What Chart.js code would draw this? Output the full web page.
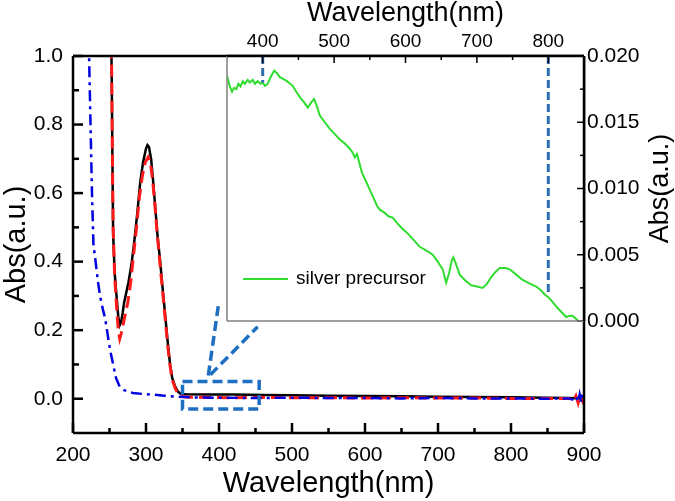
<!DOCTYPE html>
<html>
<head>
<meta charset="utf-8">
<script src="https://cdn.jsdelivr.net/npm/chart.js@4.4.0/dist/chart.umd.min.js"></script>
<style>
  body { margin: 0; background: #fff; }
  #wrap { position: relative; width: 675px; height: 501px; }
  #wrap canvas { position: absolute; left: 0; top: 0; }
</style>
</head>
<body>
<div id="wrap">
  <canvas id="mainChart" width="675" height="501"></canvas>
  <canvas id="insetChart" width="675" height="501"></canvas>
</div>
<script>
// ---- main panel data ----
const blackX = [250, 252, 253, 254, 255, 257, 260, 262, 264, 266, 268, 270, 273, 276, 280, 284, 288, 292, 296, 300, 302, 304, 307, 310, 313, 316, 319, 322, 326, 330, 333, 336, 340, 344, 348, 355, 380, 420, 460, 500, 550, 600, 650, 700, 750, 800, 850, 880, 900];
const blackY = [1.5, 1.1, 0.95, 0.7, 0.48, 0.37, 0.29, 0.24, 0.215, 0.225, 0.25, 0.28, 0.31, 0.34, 0.39, 0.46, 0.54, 0.63, 0.69, 0.73, 0.74, 0.735, 0.70, 0.63, 0.55, 0.47, 0.41, 0.34, 0.25, 0.16, 0.10, 0.06, 0.035, 0.02, 0.014, 0.013, 0.012, 0.012, 0.011, 0.010, 0.009, 0.008, 0.007, 0.006, 0.005, 0.004, 0.003, 0.002, 0.001];

const redX = [250, 252, 253, 254, 255, 257, 260, 262, 264, 266, 268, 271, 275, 279, 283, 287, 291, 295, 299, 303, 306, 309, 312, 315, 318, 322, 326, 330, 333, 336, 340, 344, 348, 355, 380, 420, 460, 500, 550, 600, 650, 700, 750, 800, 850, 880, 886, 889, 892, 895, 898, 900];
const redY = [1.5, 1.1, 0.95, 0.7, 0.5, 0.36, 0.26, 0.20, 0.175, 0.19, 0.21, 0.24, 0.28, 0.34, 0.42, 0.50, 0.59, 0.65, 0.69, 0.705, 0.69, 0.64, 0.57, 0.49, 0.42, 0.33, 0.24, 0.15, 0.095, 0.055, 0.03, 0.015, 0.008, 0.005, 0.004, 0.003, 0.004, 0.003, 0.003, 0.002, 0.003, 0.002, 0.002, 0.001, 0.001, 0.001, -0.005, 0.008, -0.012, 0.012, -0.006, 0.004];

const blueX = [218, 220, 222, 224, 226, 228, 231, 234, 237, 241, 244, 248, 251, 255, 259, 264, 270, 282, 295, 310, 325, 342, 360, 400, 450, 500, 550, 600, 650, 700, 750, 800, 850, 880, 886, 889, 892, 894, 896, 898, 900];
const blueY = [1.6, 1.25, 1.0, 0.80, 0.60, 0.45, 0.40, 0.345, 0.30, 0.26, 0.235, 0.18, 0.14, 0.10, 0.06, 0.035, 0.025, 0.017, 0.014, 0.012, 0.009, 0.006, 0.004, 0.003, 0.002, 0.003, 0.002, 0.002, 0.001, 0.002, 0.001, 0.001, 0.000, 0.001, -0.004, 0.006, -0.008, 0.012, -0.010, 0.014, 0.002];

// zoom box + pointer (data coords)
const boxX = [350, 455, 455, 350, 350];
const boxY = [0.05, 0.05, -0.03, -0.03, 0.05];
const pointerX = [399, 385, 453];
const pointerY = [0.27, 0.063, 0.21];

const mainXTicks = [200, 300, 400, 500, 600, 700, 800, 900];
const mainYTicks = [0, 0.2, 0.4, 0.6, 0.8, 1.0];

// ---- inset data ----
const greenX = [350, 354, 357, 360, 363, 366, 369, 372, 375, 379, 382, 386, 389, 393, 397, 400, 403, 407, 411, 416, 420, 424, 428, 434, 442, 447, 452, 458, 463, 468, 472, 476, 480, 487, 494, 501, 508, 515, 522, 526, 529, 532, 535, 539, 545, 550, 556, 560, 564, 570, 576, 582, 588, 595, 602, 610, 620, 630, 638, 645, 652, 657, 661, 665, 667, 670, 676, 683, 692, 700, 708, 714, 720, 726, 732, 740, 746, 755, 764, 775, 783, 790, 795, 800, 805, 811, 818, 825, 830, 834, 838, 842];
const greenY = [0.0185, 0.0177, 0.0173, 0.0176, 0.0175, 0.0179, 0.0177, 0.0181, 0.0179, 0.0182, 0.0180, 0.0182, 0.0179, 0.0181, 0.0179, 0.0180, 0.01775, 0.0179, 0.0184, 0.0189, 0.0187, 0.0184, 0.0183, 0.0181, 0.01775, 0.0173, 0.0169, 0.0165, 0.0161, 0.0165, 0.01675, 0.0162, 0.0155, 0.0150, 0.0145, 0.0141, 0.0137, 0.0134, 0.0130, 0.0127, 0.01235, 0.0126, 0.0120, 0.0112, 0.0105, 0.0099, 0.0092, 0.0087, 0.0084, 0.0082, 0.0079, 0.0078, 0.0074, 0.0070, 0.00667, 0.0062, 0.0056, 0.0053, 0.0050, 0.0045, 0.0039, 0.0029, 0.0036, 0.0046, 0.0048, 0.0044, 0.0035, 0.0031, 0.0027, 0.0026, 0.0025, 0.0028, 0.0033, 0.0037, 0.0040, 0.0040, 0.0039, 0.0035, 0.0031, 0.0028, 0.0026, 0.0023, 0.0020, 0.0018, 0.0015, 0.0011, 0.0007, 0.0003, 0.0004, 0.0004, 0.0002, 0.0];

const mark400X = [400, 400];
const mark400Y = [0.020, 0.0180];
const mark800X = [800, 800];
const mark800Y = [0.020, 0.0021];

const insetXTicks = [400, 500, 600, 700, 800];
const insetYTicks = [0, 0.005, 0.010, 0.015, 0.020];

const pts = (xs, ys) => xs.map((x, i) => ({ x: x, y: ys[i] }));

Chart.defaults.font.family = "'Liberation Sans', Arial, sans-serif";
Chart.defaults.color = '#000';

// frame, inward ticks, extra text
const framePlugin = {
  id: 'frame',
  beforeDraw(chart, args, o) {
    if (!o.fill) return;
    const a = chart.chartArea, ctx = chart.ctx;
    ctx.save();
    ctx.fillStyle = '#fff';
    ctx.fillRect(a.left, a.top, a.right - a.left, a.bottom - a.top);
    ctx.restore();
  },
  afterDatasetsDraw(chart, args, o) {
    const a = chart.chartArea, ctx = chart.ctx;
    ctx.save();
    // ticks
    (o.ticks || []).forEach(t => {
      const sc = chart.scales[t.axis];
      const vals = sc.ticks.map(k => k.value);
      const step = vals[1] - vals[0];
      const minors = [];
      for (let v = vals[0] - step / 2; v <= sc.max + 1e-9; v += step) {
        if (v > sc.min + 1e-9 && v < sc.max - 1e-9) minors.push(v);
      }
      ctx.strokeStyle = '#000';
      ctx.lineWidth = t.width;
      const draw = (v, len) => {
        const p = sc.getPixelForValue(v);
        ctx.beginPath();
        if (t.side === 'bottom') { ctx.moveTo(p, a.bottom); ctx.lineTo(p, a.bottom - len); }
        if (t.side === 'top')    { ctx.moveTo(p, a.top);    ctx.lineTo(p, a.top + len); }
        if (t.side === 'left')   { ctx.moveTo(a.left, p);   ctx.lineTo(a.left + len, p); }
        if (t.side === 'right')  { ctx.moveTo(a.right, p);  ctx.lineTo(a.right - len, p); }
        ctx.stroke();
      };
      vals.forEach(v => draw(v, t.major));
      minors.forEach(v => draw(v, t.minor));
    });
    // sides
    (o.sides || []).forEach(s => {
      ctx.strokeStyle = s.color;
      ctx.lineWidth = s.width;
      ctx.beginPath();
      if (s.side === 'top')    { ctx.moveTo(a.left, a.top);    ctx.lineTo(a.right, a.top); }
      if (s.side === 'bottom') { ctx.moveTo(a.left, a.bottom); ctx.lineTo(a.right, a.bottom); }
      if (s.side === 'left')   { ctx.moveTo(a.left, a.top);    ctx.lineTo(a.left, a.bottom); }
      if (s.side === 'right')  { ctx.moveTo(a.right, a.top);   ctx.lineTo(a.right, a.bottom); }
      ctx.stroke();
    });
    // legend inside the inset
    if (o.legend) {
      const L = o.legend;
      ctx.strokeStyle = L.color;
      ctx.lineWidth = 2;
      ctx.beginPath();
      ctx.moveTo(a.left + 16, a.top + L.dy);
      ctx.lineTo(a.left + 61, a.top + L.dy);
      ctx.stroke();
      ctx.fillStyle = '#000';
      ctx.font = "19px 'Liberation Sans', Arial, sans-serif";
      ctx.textBaseline = 'middle';
      ctx.textAlign = 'left';
      ctx.fillText(L.text, a.left + 69, a.top + L.dy);
    }
    // right axis title, read bottom to top
    if (o.rightTitle) {
      ctx.fillStyle = '#000';
      ctx.font = "27px 'Liberation Sans', Arial, sans-serif";
      ctx.textAlign = 'center';
      ctx.textBaseline = 'middle';
      ctx.translate(a.right + 77, (a.top + a.bottom) / 2);
      ctx.rotate(-Math.PI / 2);
      ctx.fillText(o.rightTitle, 0, 0);
    }
    ctx.restore();
  }
};

new Chart(document.getElementById('mainChart'), {
  type: 'line',
  data: {
    datasets: [
      { label: 'box', data: pts(boxX, boxY), borderColor: '#1f6fc1', borderWidth: 3.5, borderDash: [10, 5] },
      { label: 'pointer', data: pts(pointerX, pointerY), borderColor: '#1f6fc1', borderWidth: 3.5, borderDash: [10, 5] },
      { label: 'blue', data: pts(blueX, blueY), borderColor: '#0000e0', borderWidth: 2.5, borderDash: [11, 5, 3, 5] },
      { label: 'red', data: pts(redX, redY), borderColor: '#ff1a1a', borderWidth: 3, borderDash: [12, 6] },
      { label: 'black', data: pts(blackX, blackY), borderColor: '#000', borderWidth: 2.5 }
    ]
  },
  options: {
    responsive: false, animation: false, devicePixelRatio: 1,
    layout: { padding: { top: 56, right: 91, left: 0, bottom: 0 } },
    elements: { point: { radius: 0 }, line: { tension: 0 } },
    plugins: {
      legend: { display: false }, tooltip: { enabled: false },
      frame: {
        ticks: [
          { axis: 'x', side: 'bottom', major: 10, minor: 5, width: 2.5 },
          { axis: 'y', side: 'left', major: 10, minor: 6, width: 2.5 }
        ],
        sides: [
          { side: 'top', color: '#000', width: 2.5 },
          { side: 'bottom', color: '#000', width: 2.5 },
          { side: 'left', color: '#000', width: 2.5 },
          { side: 'right', color: '#000', width: 2.5 }
        ]
      }
    },
    scales: {
      x: {
        type: 'linear', position: 'bottom', min: 200, max: 900,
        afterBuildTicks: s => { s.ticks = mainXTicks.map(v => ({ value: v })); },
        afterFit: s => { s.height = 68; },
        grid: { display: false, drawTicks: false }, border: { display: false },
        ticks: { font: { size: 21 }, padding: 10, maxRotation: 0, autoSkip: false, callback: v => String(v) },
        title: { display: true, text: 'Wavelength(nm)', font: { size: 29 }, padding: 0 }
      },
      y: {
        type: 'linear', position: 'left', min: -0.1, max: 1.0,
        afterBuildTicks: s => { s.ticks = mainYTicks.map(v => ({ value: v })); },
        afterFit: s => { s.width = 73; },
        grid: { display: false, drawTicks: false }, border: { display: false },
        ticks: { font: { size: 21 }, padding: 10, autoSkip: false, callback: v => v.toFixed(1) },
        title: { display: true, text: 'Abs(a.u.)', font: { size: 29 }, padding: 0 }
      }
    }
  },
  plugins: [framePlugin]
});

new Chart(document.getElementById('insetChart'), {
  type: 'line',
  data: {
    datasets: [
      { label: 'm400', data: pts(mark400X, mark400Y), borderColor: '#2e6db4', borderWidth: 3, borderDash: [8, 4] },
      { label: 'm800', data: pts(mark800X, mark800Y), borderColor: '#2e6db4', borderWidth: 3, borderDash: [8, 4] },
      { label: 'silver precursor', data: pts(greenX, greenY), borderColor: '#2fdc2f', borderWidth: 2 }
    ]
  },
  options: {
    responsive: false, animation: false, devicePixelRatio: 1,
    layout: { padding: { top: 0, right: 0, left: 227, bottom: 180 } },
    elements: { point: { radius: 0 }, line: { tension: 0 } },
    plugins: {
      legend: { display: false }, tooltip: { enabled: false },
      frame: {
        fill: true,
        ticks: [
          { axis: 'x', side: 'top', major: 7, minor: 4, width: 1.5 },
          { axis: 'y', side: 'right', major: 7, minor: 4, width: 1.5 }
        ],
        sides: [
          { side: 'left', color: '#808080', width: 1.5 },
          { side: 'bottom', color: '#808080', width: 1.5 },
          { side: 'top', color: '#000', width: 2.5 },
          { side: 'right', color: '#000', width: 2.5 }
        ],
        legend: { text: 'silver precursor', color: '#2fdc2f', dy: 223 },
        rightTitle: 'Abs(a.u.)'
      }
    },
    scales: {
      x: {
        type: 'linear', position: 'top', min: 350, max: 850,
        afterBuildTicks: s => { s.ticks = insetXTicks.map(v => ({ value: v })); },
        afterFit: s => { s.height = 56; },
        grid: { display: false, drawTicks: false }, border: { display: false },
        ticks: { font: { size: 19 }, padding: 3, maxRotation: 0, autoSkip: false, callback: v => String(v) },
        title: { display: true, text: 'Wavelength(nm)', font: { size: 27, lineHeight: 1 }, padding: 0 }
      },
      y: {
        type: 'linear', position: 'right', min: 0, max: 0.02,
        afterBuildTicks: s => { s.ticks = insetYTicks.map(v => ({ value: v })); },
        afterFit: s => { s.width = 91; },
        grid: { display: false, drawTicks: false }, border: { display: false },
        ticks: { font: { size: 21 }, padding: 3, autoSkip: false, callback: v => v.toFixed(3) }
      }
    }
  },
  plugins: [framePlugin]
});
</script>
</body>
</html>
